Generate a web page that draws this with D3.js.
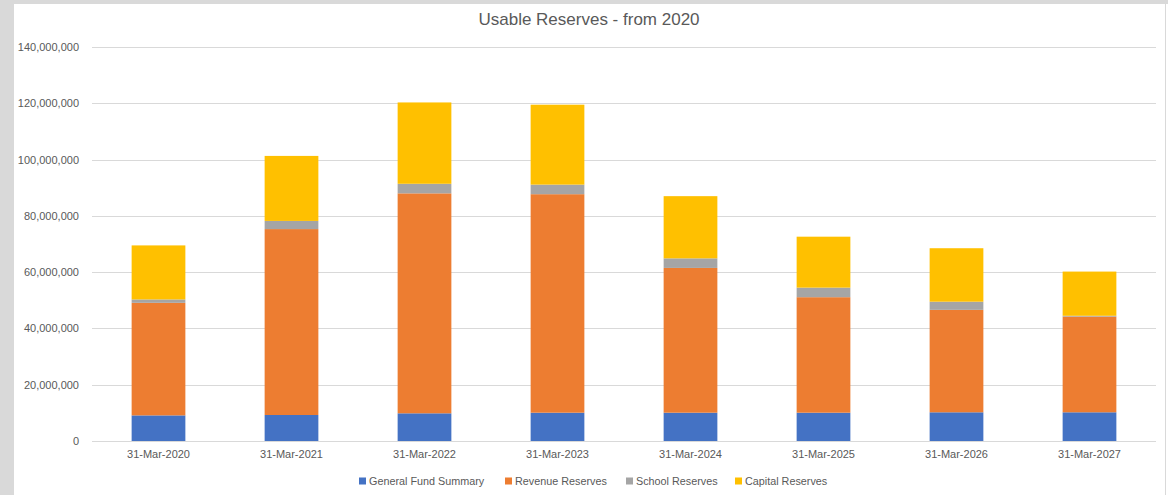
<!DOCTYPE html>
<html>
<head>
<meta charset="utf-8">
<script src="https://cdn.jsdelivr.net/npm/d3@7"></script>
<style>
  html, body { margin: 0; padding: 0; background: #d9d9d9; }
  svg { display: block; }
  text { font-family: "Liberation Sans", Arial, sans-serif; fill: #595959; }
</style>
</head>
<body>
<script>
const categories = ["31-Mar-2020","31-Mar-2021","31-Mar-2022","31-Mar-2023","31-Mar-2024","31-Mar-2025","31-Mar-2026","31-Mar-2027"];
const seriesNames = ["General Fund Summary","Revenue Reserves","School Reserves","Capital Reserves"];
const generalFund = [9100000, 9240000, 9840000, 10060000, 10060000, 10060000, 10200000, 10200000];
const revenueReserves = [40000000, 66060000, 78160000, 77640000, 51440000, 41040000, 36400000, 34000000];
const schoolReserves = [1200000, 2900000, 3400000, 3400000, 3400000, 3400000, 2900000, 300000];
const capitalReserves = [19200000, 23100000, 28900000, 28400000, 22100000, 18100000, 19000000, 15700000];
const yTicks = [0, 20000000, 40000000, 60000000, 80000000, 100000000, 120000000, 140000000];
const colors = ["#4472C4", "#ED7D31", "#A5A5A5", "#FFC000"];

const W = 1168, H = 495;
const svg = d3.select("body").append("svg").attr("width", W).attr("height", H);

// white chart panel
svg.append("rect").attr("x", 14).attr("y", 4).attr("width", W - 14).attr("height", H - 4).attr("fill", "#ffffff");
svg.append("line").attr("x1", 1165.5).attr("x2", 1165.5).attr("y1", 4).attr("y2", H).attr("stroke", "#d9d9d9");

const plot = { left: 92, right: 1156, top: 47, bottom: 441 };

const x = d3.scaleBand().domain(categories).range([plot.left, plot.right]).paddingInner(0.596).paddingOuter(0.298);
const y = d3.scaleLinear().domain([0, 140000000]).range([plot.bottom, plot.top]);

// gridlines
svg.append("g").selectAll("line").data(yTicks).join("line")
  .attr("x1", plot.left).attr("x2", plot.right)
  .attr("y1", d => Math.round(y(d)) + 0.5).attr("y2", d => Math.round(y(d)) + 0.5)
  .attr("stroke", "#d9d9d9").attr("stroke-width", 1);

// y axis
const yAxis = d3.axisLeft(y).tickValues(yTicks).tickSize(0).tickPadding(0).tickFormat(d3.format(","));
const gy = svg.append("g").attr("transform", `translate(79,0)`).call(yAxis);
gy.select(".domain").remove();
gy.selectAll("text").style("font-size", "11px").attr("fill", "#595959");

// x axis
const xAxis = d3.axisBottom(x).tickSize(0).tickPadding(9);
const gx = svg.append("g").attr("transform", `translate(0,${plot.bottom})`).call(xAxis);
gx.select(".domain").remove();
gx.selectAll("text").style("font-size", "11px").attr("fill", "#595959");

// stacked data
const rows = categories.map((c, i) => ({
  cat: c,
  [seriesNames[0]]: generalFund[i],
  [seriesNames[1]]: revenueReserves[i],
  [seriesNames[2]]: schoolReserves[i],
  [seriesNames[3]]: capitalReserves[i]
}));
const stacked = d3.stack().keys(seriesNames)(rows);

svg.append("g").selectAll("g").data(stacked).join("g")
  .attr("fill", (d, i) => colors[i])
  .selectAll("rect").data(d => d).join("rect")
  .attr("x", d => x(d.data.cat))
  .attr("width", x.bandwidth())
  .attr("y", d => y(d[1]))
  .attr("height", d => y(d[0]) - y(d[1]));

// title
svg.append("text").attr("x", 589).attr("y", 25).attr("text-anchor", "middle")
  .style("font-size", "17px").text("Usable Reserves - from 2020");

// legend
const legendX = [359, 505, 626, 735];
const lg = svg.append("g").selectAll("g").data(seriesNames).join("g")
  .attr("transform", (d, i) => `translate(${legendX[i]},481)`);
lg.append("rect").attr("x", 0).attr("y", -3.5).attr("width", 7).attr("height", 7).attr("fill", (d, i) => colors[i]);
lg.append("text").attr("x", 10).attr("y", 4).style("font-size", "10.8px").text(d => d);
</script>
</body>
</html>
